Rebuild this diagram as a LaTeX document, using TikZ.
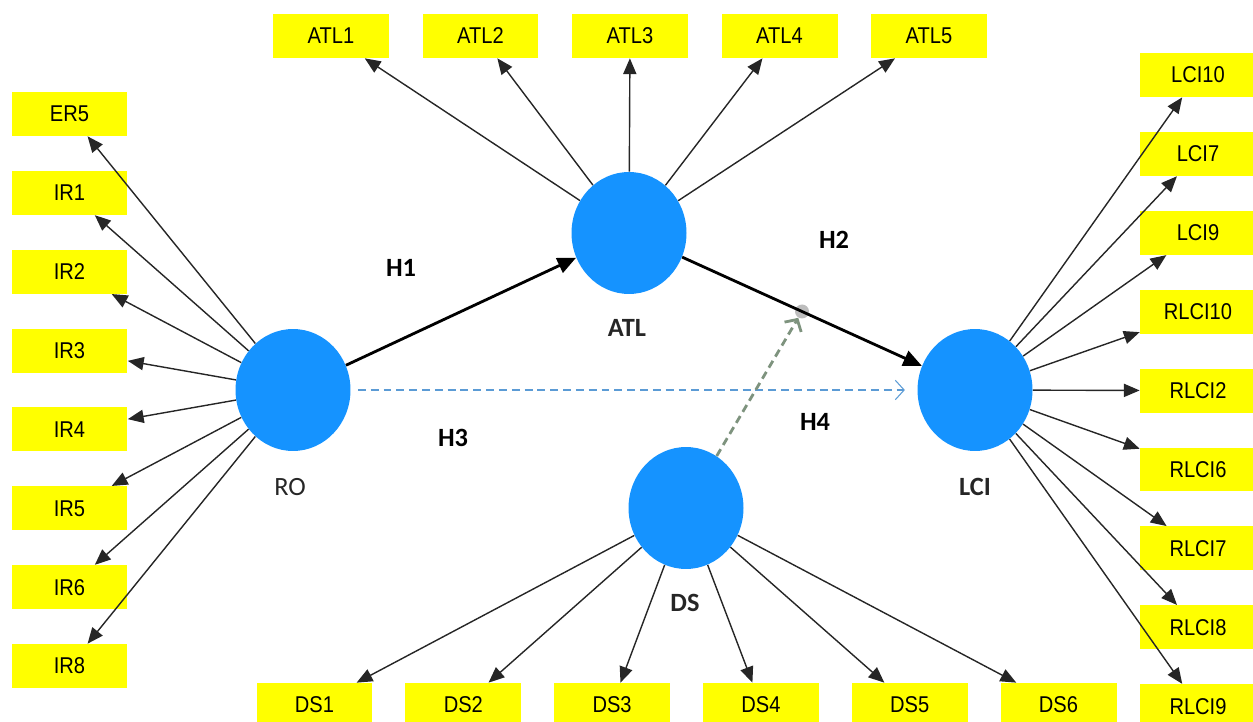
\documentclass[tikz,border=0pt]{standalone}
\usepackage{fontspec}
\setmainfont{Liberation Sans}
\newfontfamily\boxfont[FakeStretch=0.88]{Liberation Sans}
\newfontfamily\labfont{Carlito}
\usepackage{tikz}
\usetikzlibrary{arrows.meta,positioning,shapes.geometric,calc}
\definecolor{boxyellow}{HTML}{FFFF00}
\definecolor{lvblue}{HTML}{1593FF}
\definecolor{h3blue}{HTML}{5B9BD5}
\definecolor{h4green}{HTML}{7E937E}
\definecolor{dotgray}{HTML}{BDBDBD}
\definecolor{ln90}{HTML}{262626}
\tikzset{
  indbox/.style={
    rectangle, fill=boxyellow,
    minimum width=2.32cm, minimum height=0.88cm,
    inner sep=0pt, font=\boxfont\fontsize{13}{15}\selectfont
  },
  latent/.style={
    ellipse, fill=lvblue,
    minimum width=2.3cm, minimum height=2.44cm, inner sep=0pt
  },
  latlabel/.style={
    font=\labfont\bfseries\fontsize{15}{17}\selectfont, text=ln90
  },
  hyplabel/.style={
    font=\labfont\bfseries\fontsize{15}{17}\selectfont
  },
  loadarrow/.style={
    -{Triangle[length=9pt,width=7.5pt]}, line width=0.8pt, color=ln90
  },
  patharrow/.style={
    -{Triangle[length=10.5pt,width=9pt]}, line width=1.6pt
  },
  % ── dashed paths ──
  h3line/.style={
    -{Straight Barb[length=5pt,width=11pt]}, line width=0.6pt, color=h3blue,
    dash pattern=on 4.5pt off 2.8pt, shorten <=4pt, shorten >=7pt
  },
  h4line/.style={
    -{Straight Barb[length=5pt,width=11pt]}, line width=1.6pt, color=h4green,
    dash pattern=on 4.5pt off 2.8pt
  },
  middot/.style={
    circle, fill=dotgray, minimum size=0.28cm, inner sep=0pt
  },
}

\begin{document}
\begin{tikzpicture}[x=0.02cm, y=-0.02cm]
  \useasboundingbox (0,0) rectangle (1253,722);

  % Latent variables
  \node[latent] (RO)  at (293,390) {};
  \node[latent] (ATL) at (629,233) {};
  \node[latent] (LCI) at (975,390) {};
  \node[latent] (DS)  at (686,508) {};

  \node[latlabel] (RO-lab)  at (290,487) {\mdseries RO};
  \node[latlabel] (ATL-lab) at (627,328) {ATL};
  \node[latlabel] (LCI-lab) at (975,487) {LCI};
  \node[latlabel] (DS-lab)  at (685,603) {DS};

  % Indicators
  \foreach \ind [count=\i from 0] in {ER5,IR1,IR2,IR3,IR4,IR5,IR6,IR8}
    \node[indbox] (\ind) at (69.5,114+78.86*\i) {\ind};
  \foreach \ind [count=\i from 0] in {ATL1,ATL2,ATL3,ATL4,ATL5}
    \node[indbox] (\ind) at (331+149.5*\i,36) {\ind};
  \foreach \ind [count=\i from 0] in {LCI10,LCI7,LCI9,RLCI10,RLCI2,RLCI6,RLCI7,RLCI8,RLCI9}
    \node[indbox] (\ind) at (1198,75+78.9*\i) {\ind};
  \foreach \ind [count=\i from 0] in {DS1,DS2,DS3,DS4,DS5,DS6}
    \node[indbox] (\ind) at (314.5+148.8*\i,705) {\ind};

  % Outer loadings
  \foreach \ind in {ER5,IR1,IR2,IR3,IR4,IR5,IR6,IR8}
    \draw[loadarrow] (RO) -- (\ind);
  \foreach \ind in {ATL1,ATL2,ATL3,ATL4,ATL5}
    \draw[loadarrow] (ATL) -- (\ind);
  \foreach \ind in {LCI10,LCI7,LCI9,RLCI10,RLCI2,RLCI6,RLCI7,RLCI8,RLCI9}
    \draw[loadarrow] (LCI) -- (\ind);
  \foreach \ind in {DS1,DS2,DS3,DS4,DS5,DS6}
    \draw[loadarrow] (DS) -- (\ind);

  % Structural paths
  \node[middot] (mid) at ($(ATL)!0.5!(LCI)$) {};
  \draw[patharrow] (RO) -- (ATL);
  \draw[patharrow] (ATL) -- (LCI);
  \draw[h3line] (RO) -- (LCI);
  \draw[h4line] (DS) -- (mid);

  \node[hyplabel] (H1) at (401,268) {H1};
  \node[hyplabel] (H2) at (834,240) {H2};
  \node[hyplabel] (H3) at (453,438) {H3};
  \node[hyplabel] (H4) at (815,422) {H4};
\end{tikzpicture}
\end{document}
